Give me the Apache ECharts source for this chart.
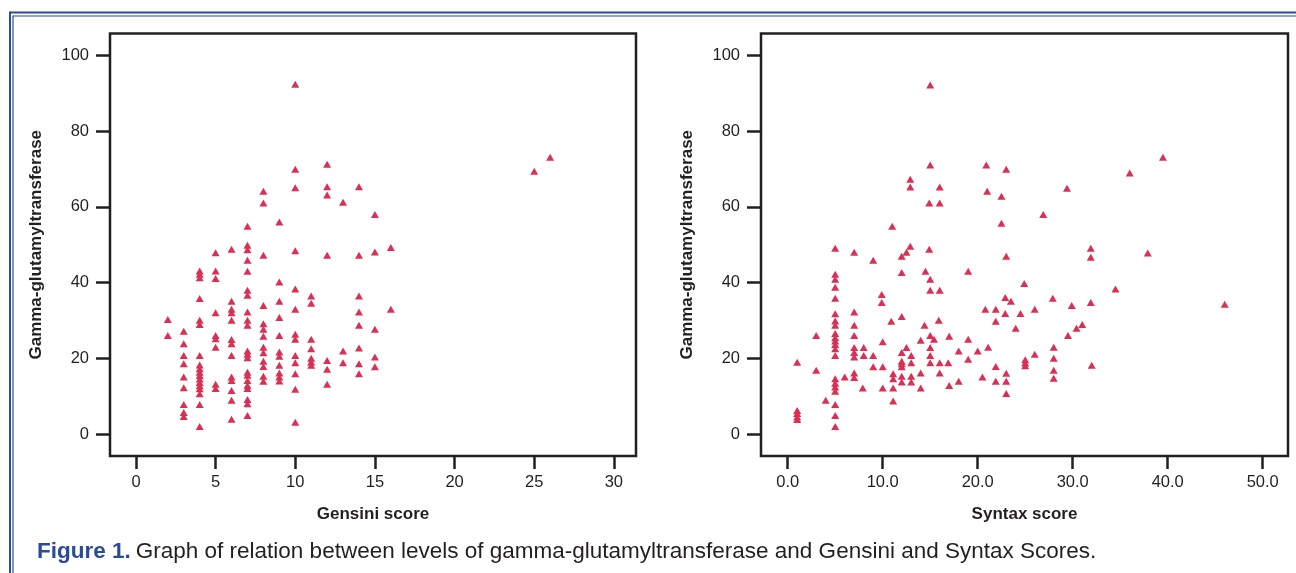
<!DOCTYPE html>
<html>
<head>
<meta charset="utf-8">
<title>GGT vs Gensini and Syntax scores</title>
<script src="https://cdn.jsdelivr.net/npm/echarts@6/dist/echarts.min.js"></script>
<style>
  html, body { margin: 0; padding: 0; background: #fff; }
  #chart { width: 1296px; height: 573px; }
</style>
</head>
<body>
<div id="chart"></div>
<script>
// Gensini score vs gamma-glutamyltransferase (left panel)
var gensiniScore = [
  2, 2,
  3, 3, 3, 3, 3, 3, 3, 3, 3,
  4, 4, 4, 4, 4, 4, 4, 4, 4, 4, 4, 4, 4, 4, 4, 4, 4, 4,
  5, 5, 5, 5, 5, 5, 5, 5, 5,
  6, 6, 6, 6, 6, 6, 6, 6, 6, 6, 6, 6, 6,
  7, 7, 7, 7, 7, 7, 7, 7, 7, 7, 7, 7, 7, 7, 7, 7, 7, 7, 7, 7, 7,
  8, 8, 8, 8, 8, 8, 8, 8, 8, 8, 8, 8, 8,
  9, 9, 9, 9, 9, 9, 9, 9, 9, 9, 9,
  10, 10, 10, 10, 10, 10, 10, 10, 10, 10, 10, 10, 10,
  11, 11, 11, 11, 11, 11, 11,
  12, 12, 12, 12, 12, 12, 12,
  13, 13, 13,
  14, 14, 14, 14, 14, 14, 14, 14,
  15, 15, 15, 15, 15,
  16, 16,
  25, 26
];
var gensiniGgt = [
  30.3, 26.1,
  27.2, 23.9, 20.8, 18.6, 15.1, 12.3, 7.9, 5.8, 4.7,
  43.1, 42.2, 41.3, 35.8, 30.1, 29.0, 20.8, 18.3, 17.3, 16.4, 15.5, 14.6, 13.7, 12.8, 12.0, 10.7, 7.9, 2.1,
  47.9, 43.1, 41.1, 32.1, 26.1, 25.2, 23.0, 13.2, 12.1,
  48.8, 35.1, 33.0, 32.1, 30.1, 25.0, 23.9, 20.8, 15.1, 14.2, 11.6, 9.0, 4.0,
  54.9, 49.9, 48.7, 45.9, 43.0, 38.0, 36.7, 32.3, 30.1, 28.8, 22.0, 21.1, 20.2, 16.4, 15.6, 14.2, 12.9, 12.1, 9.2, 8.1, 5.0,
  64.1, 61.0, 47.2, 34.0, 29.2, 27.7, 25.9, 23.0, 21.5, 19.3, 17.9, 15.3, 14.0,
  56.0, 40.2, 35.1, 30.8, 26.1, 21.7, 20.6, 18.2, 16.2, 15.1, 14.1,
  92.3, 69.9, 65.0, 48.4, 38.3, 33.0, 26.4, 25.1, 20.8, 18.9, 16.0, 11.9, 3.2,
  36.5, 34.6, 25.1, 22.6, 20.1, 19.1, 18.2,
  71.2, 65.3, 63.1, 47.2, 19.5, 17.2, 13.2,
  61.2, 22.0, 18.9,
  65.3, 47.2, 36.5, 32.3, 28.8, 22.8, 18.6, 16.0,
  58.0, 48.1, 27.7, 20.4, 17.8,
  49.3, 33.0,
  69.4, 73.1
];

// Syntax score vs gamma-glutamyltransferase (right panel)
var syntaxScore = [
  1.0, 1.0, 1.0, 1.0, 1.0,
  3.0, 3.0, 4.0,
  5, 5, 5, 5, 5, 5, 5, 5, 5, 5, 5, 5, 5, 5, 5, 5, 5, 5, 5, 5, 5,
  6.0,
  7, 7, 7, 7, 7, 7, 7, 7, 7,
  8.0, 8.0, 7.9,
  9.0, 9.0, 9.0,
  9.9, 9.9, 10.0, 10.0, 10.0,
  11.0, 10.9, 11.1, 11.1, 11.1, 11.1,
  12, 12, 12, 12, 12, 12, 12, 12, 12,
  12.5, 12.5,
  12.9, 12.9, 12.9, 13.0, 13.0, 13.0, 13.0,
  14.0, 14.0, 14.0, 14.5, 14.4,
  15.0, 15.0, 14.9, 14.9, 15.0, 15.0, 15.0, 15.4, 15.0, 15.0, 15.0,
  16.0, 16.0, 16.0, 15.9, 16.0, 16.0,
  16.9, 17.0, 17.0,
  18.0, 18.0,
  19.0, 19.0, 19.0,
  20.0, 20.5,
  20.9, 21.0, 20.8, 21.1,
  21.9, 21.9, 21.9, 21.9,
  22.5, 22.5,
  23.0, 23.0, 22.9, 23.5, 22.9, 23.0, 23.0, 23.0,
  24.0, 24.5, 24.9, 25.0, 25.0, 25.0,
  26.0, 26.0, 26.9,
  27.9, 28.0, 28.0, 28.0, 28.0,
  29.4, 29.5, 29.9, 30.4, 31.0,
  31.9, 31.9, 31.9, 32.0,
  34.5, 36.0, 37.9, 39.5, 46.0
];
var syntaxGgt = [
  19.0, 6.3, 5.5, 4.6, 3.9,
  26.1, 16.9, 9.0,
  49.1, 42.2, 40.9, 38.8, 35.9, 31.8, 29.9, 28.8, 26.6, 25.5, 24.6, 23.7, 22.6, 20.8, 14.7, 13.5, 12.5, 11.4, 7.9, 5.0, 2.1,
  15.1,
  48.0, 32.3, 28.8, 26.1, 22.9, 21.6, 20.4, 16.2, 15.0,
  22.9, 20.8, 12.2,
  45.9, 20.8, 17.8,
  36.9, 34.8, 24.4, 17.8, 12.2,
  54.9, 29.8, 16.0, 14.7, 12.2, 8.8,
  47.0, 42.7, 31.1, 21.6, 19.3, 18.6, 17.8, 15.3, 13.8,
  48.0, 22.9,
  67.3, 65.2, 49.6, 20.8, 18.9, 15.3, 13.8,
  24.8, 16.2, 12.2, 43.0, 28.8,
  92.1, 71.0, 61.0, 48.8, 40.9, 38.0, 26.1, 25.1, 22.9, 20.8, 18.9,
  65.2, 61.0, 38.0, 30.1, 18.9, 16.2,
  18.9, 25.9, 12.9,
  22.0, 14.0,
  43.0, 25.1, 19.8,
  22.0, 15.1,
  71.0, 64.1, 33.0, 23.0,
  33.0, 29.8, 17.9, 14.0,
  62.8, 55.7,
  69.9, 47.0, 36.1, 35.1, 31.9, 16.1, 14.0, 10.8,
  28.0, 31.9, 39.8, 19.7, 18.8, 18.1,
  33.0, 21.1, 58.0,
  35.9, 23.0, 20.1, 16.9, 14.8,
  64.9, 26.1, 34.0, 28.0, 29.0,
  49.1, 46.7, 34.8, 18.2,
  38.3, 68.9, 47.8, 73.1, 34.3
];

var yTicks = [0, 20, 40, 60, 80, 100];
var gensiniTicks = [0, 5, 10, 15, 20, 25, 30];
var syntaxTicks = [0, 10, 20, 30, 40, 50];

var gensiniPoints = gensiniScore.map(function (x, i) { return [x, gensiniGgt[i]]; });
var syntaxPoints = syntaxScore.map(function (x, i) { return [x, syntaxGgt[i]]; });

var font = "'Liberation Sans', Arial, sans-serif";
var ink = '#231f20';
var blue = '#2b4a9a';
var red = '#dc2f55';

function xAxisFor(grid, min, max, ticks, name, fmt) {
  return {
    type: 'value', gridIndex: grid, min: min, max: max,
    axisLine: { show: false, onZero: false },
    splitLine: { show: false },
    axisTick: { show: true, length: 13, customValues: ticks, lineStyle: { color: ink, width: 2.5 } },
    axisLabel: { customValues: ticks, margin: 18, color: ink, fontSize: 16.5, fontFamily: font, formatter: fmt },
    name: name, nameLocation: 'middle', nameGap: 50,
    nameTextStyle: { color: ink, fontSize: 17, fontWeight: 'bold', fontFamily: font }
  };
}
function yAxisFor(grid) {
  return {
    type: 'value', gridIndex: grid, min: -5.7, max: 105.7,
    axisLine: { show: false, onZero: false },
    splitLine: { show: false },
    axisTick: { show: true, length: 14, customValues: yTicks, lineStyle: { color: ink, width: 2.5 } },
    axisLabel: { customValues: yTicks, margin: 21, color: ink, fontSize: 16.5, fontFamily: font },
    name: 'Gamma-glutamyltransferase', nameLocation: 'middle', nameGap: 65, nameRotate: 90,
    nameTextStyle: { color: ink, fontSize: 17, fontWeight: 'bold', fontFamily: font }
  };
}

var chart = echarts.init(document.getElementById('chart'), null, { renderer: 'canvas' });
chart.setOption({
  animation: false,
  backgroundColor: '#fff',
  title: {
    left: 37, top: 540, padding: 0,
    text: '{a|Figure 1.} {b|Graph of relation between levels of gamma-glutamyltransferase and Gensini and Syntax Scores.}',
    textStyle: {
      rich: {
        a: { color: blue, fontWeight: 'bold', fontSize: 22.5, fontFamily: font },
        b: { color: ink, fontWeight: 'normal', fontSize: 22.5, fontFamily: font }
      }
    }
  },
  grid: [
    { left: 110, top: 33.5, width: 526, height: 422.5, show: true, borderColor: ink, borderWidth: 2.5, backgroundColor: 'transparent' },
    { left: 761, top: 33.5, width: 527, height: 422.5, show: true, borderColor: ink, borderWidth: 2.5, backgroundColor: 'transparent' }
  ],
  xAxis: [
    xAxisFor(0, -1.63, 31.39, gensiniTicks, 'Gensini score'),
    xAxisFor(1, -2.81, 52.66, syntaxTicks, 'Syntax score', function (v) { return v.toFixed(1); })
  ],
  yAxis: [yAxisFor(0), yAxisFor(1)],
  series: [
    { type: 'scatter', xAxisIndex: 0, yAxisIndex: 0, symbol: 'triangle', symbolSize: [8, 7],
      itemStyle: { color: red, opacity: 1 }, data: gensiniPoints },
    { type: 'scatter', xAxisIndex: 1, yAxisIndex: 1, symbol: 'triangle', symbolSize: [8, 7],
      itemStyle: { color: red, opacity: 1 }, data: syntaxPoints }
  ],
  graphic: [
    // blue double frame round the figure (open at right and bottom, as cropped)
    { type: 'line', shape: { x1: 10, y1: 12.5, x2: 1296, y2: 12.5 }, style: { stroke: blue, lineWidth: 2 } },
    { type: 'line', shape: { x1: 13, y1: 16, x2: 1296, y2: 16 }, style: { stroke: blue, lineWidth: 1.2 } },
    { type: 'line', shape: { x1: 10, y1: 11.5, x2: 10, y2: 573 }, style: { stroke: blue, lineWidth: 2 } },
    { type: 'line', shape: { x1: 13, y1: 15.5, x2: 13, y2: 573 }, style: { stroke: blue, lineWidth: 1.2 } }
  ]
});
</script>
</body>
</html>
